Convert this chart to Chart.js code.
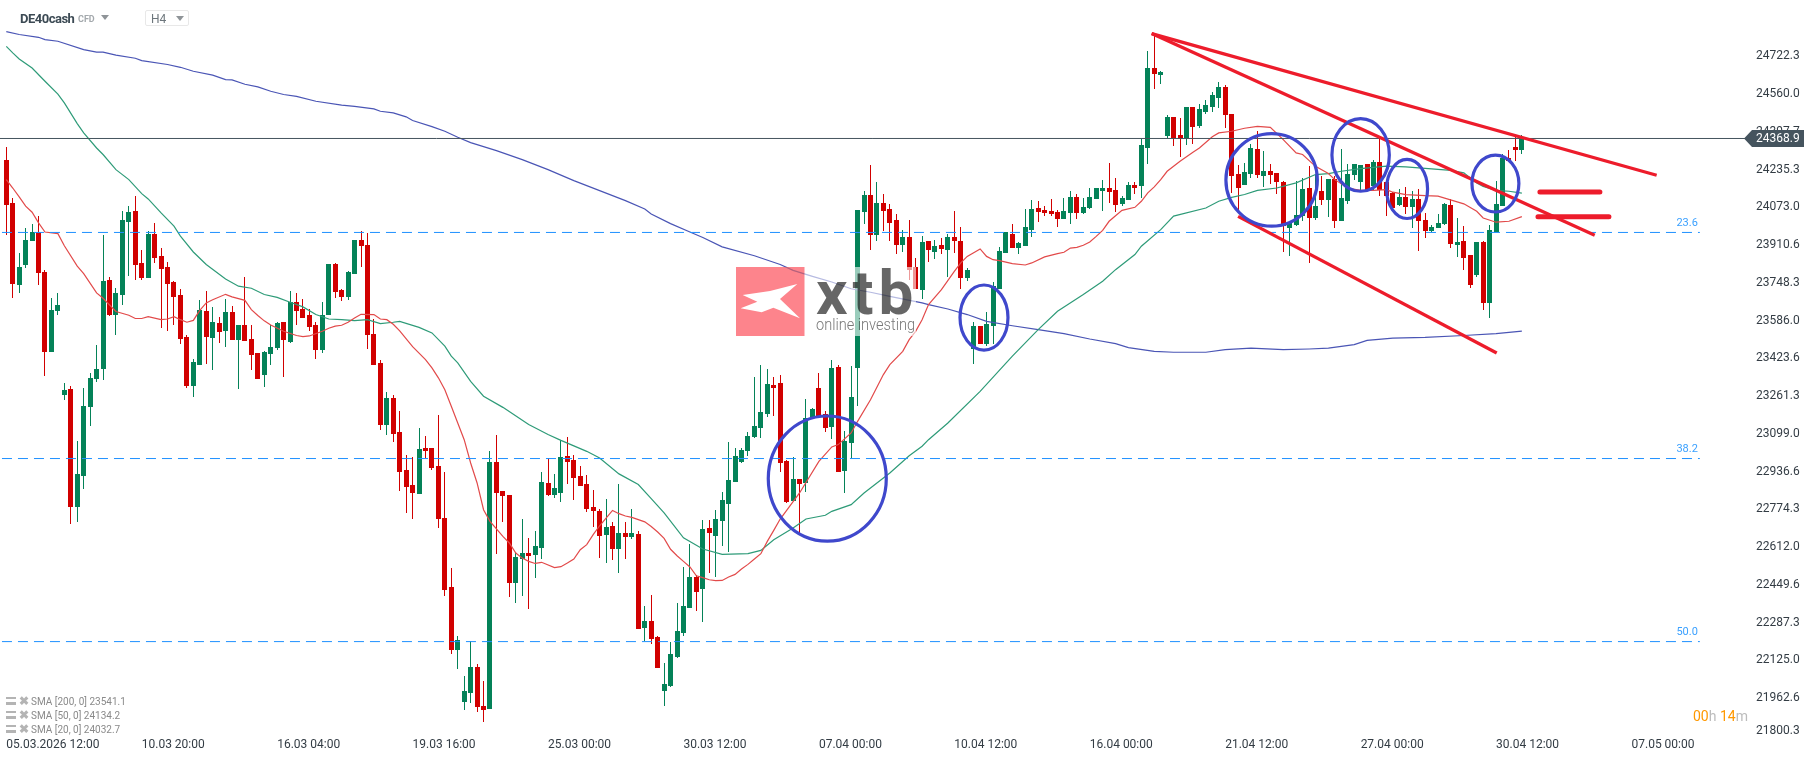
<!DOCTYPE html>
<html><head><meta charset="utf-8">
<script src="https://cdn.jsdelivr.net/npm/chart.js@4/dist/chart.umd.js"></script>
<style>
html,body{margin:0;padding:0;background:#fff;overflow:hidden;width:1816px;height:761px;font-family:Roboto,sans-serif}
#wrap{position:relative;width:1816px;height:761px}
canvas{position:absolute;left:0;top:0}
.t{position:absolute;white-space:nowrap}
.sym{left:20px;top:10px;font-size:13px;font-weight:700;letter-spacing:-0.5px;color:#3c4a54;line-height:18px}
.cfd{left:78px;top:13px;font-size:9px;font-weight:700;color:#a4a9ad;line-height:13px}
.tri{position:absolute;width:0;height:0;border-left:4px solid transparent;border-right:4px solid transparent;border-top:5px solid #8f9498}
.box{position:absolute;left:145px;top:10px;width:42px;height:14px;border:1px solid #e8e8e8;border-radius:2px}
.h4{left:151px;top:11px;font-size:12px;color:#6d767c;line-height:16px}
.leg{left:31px;font-size:10px;color:#8a8a8a;line-height:14px}
.ic{position:absolute;left:6px;width:10px;height:8px;border-top:2px solid #b4b4b4;border-bottom:3px solid #b4b4b4;box-sizing:border-box}
.cx{position:absolute;left:18.5px;font-size:12px;font-weight:700;color:#b4b4b4;line-height:12px}
.cd{left:1693px;top:707px;font-size:14px;line-height:18px;color:#bcbcbc}
.cd b{font-weight:400;color:#ff9800}
</style></head><body>
<div id="wrap">
<canvas id="c" width="1816" height="761"></canvas>
<div class="t sym">DE40cash</div><div class="t cfd">CFD</div><div class="tri" style="left:101px;top:15px"></div>
<div class="box"></div><div class="t h4">H4</div><div class="tri" style="left:176px;top:16px"></div>
<div class="ic" style="top:697px"></div><div class="t cx" style="top:695px">&#10006;</div><div class="t leg" style="top:694.5px">SMA [200, 0] 23541.1</div>
<div class="ic" style="top:711px"></div><div class="t cx" style="top:709px">&#10006;</div><div class="t leg" style="top:708.5px">SMA [50, 0] 24134.2</div>
<div class="ic" style="top:725px"></div><div class="t cx" style="top:723px">&#10006;</div><div class="t leg" style="top:722.5px">SMA [20, 0] 24032.7</div>
<div class="t cd"><b>00</b>h <b>14</b>m</div>
</div>
<script>
const opens=[24278,24093,23738,23824,23927,23967,23797,23450,23629,23268,
23294,22784,22920,23213,23337,23377,23762,23608,23698,24012,
24059,23835,23771,23960,23865,23818,23754,23698,23517,23304,
23397,23629,23513,23577,23543,23625,23504,23569,23509,23448,
23354,23444,23470,23582,23496,23668,23638,23608,23569,23461,
23608,23831,23719,23689,23788,23934,23913,23530,23405,23139,
23255,23105,22945,22881,22842,23040,23040,22963,22739,22442,
22172,21948,21986,22098,21930,21918,22979,22855,22838,22459,
22562,22588,22580,22610,22889,22838,22846,23005,22988,22919,
22885,22786,22769,22666,22704,22605,22674,22657,22670,22266,
22296,22227,21995,22016,22141,22244,22352,22485,22433,22696,
22661,22726,22799,22894,22980,23027,23087,23126,23186,23311,
23319,22984,22812,22907,22889,23169,23298,23186,23130,23388,
22941,23061,23384,24054,24128,23956,24093,24067,24020,23913,
23947,23818,23719,23930,23883,23913,23891,23947,23930,23771,
23466,23564,23487,23564,23723,23878,23960,23900,23908,23977,
24072,24063,24059,24054,24024,24050,24119,24050,24072,24110,
24145,24158,24149,24089,24106,24171,24166,24330,24674,24644,
24381,24463,24386,24373,24506,24424,24484,24506,24545,24592,
24476,24218,24171,24218,24325,24209,24231,24222,24184,23986,
23999,24035,24158,24025,24145,24106,24196,24016,24102,24214,
24184,24261,24166,24270,24184,24135,24085,24119,24076,24110,
24020,23973,23986,24003,24085,23913,23930,23870,23784,23926,
23663,23969,24080,24287,24334,24321];
const highs=[24334,24113,23877,23982,24003,24037,23804,23683,23705,23318,
23307,23070,23298,23361,23483,23956,23775,23726,24059,24080,
24123,23891,23973,24006,23900,23840,23758,23724,23522,23423,
23676,23715,23646,23603,23681,23649,23569,23775,23569,23448,
23457,23569,23582,23582,23715,23705,23681,23638,23582,23668,
23831,23835,23724,23801,23934,23973,23964,23595,23418,23281,
23268,23199,23010,23001,23126,23092,23040,23182,22937,22524,
22232,22059,22208,22111,22038,23027,23095,22855,22838,22587,
22734,22653,22683,22936,22994,22928,23074,23087,23010,22962,
22924,22859,22777,22820,22721,22885,22721,22777,22683,22360,
22408,22231,22115,22206,22373,22528,22627,22494,22730,22730,
22773,22850,23066,23040,23038,23107,23345,23397,23379,23345,
23354,22985,23001,22907,23251,23212,23362,23199,23418,23397,
23113,23392,24063,24145,24257,24183,24132,24089,24046,23977,
24020,23857,23951,23930,23934,23943,23960,24059,23990,23814,
23582,23564,23625,23754,23904,23968,24003,23926,24067,24106,
24102,24080,24110,24063,24115,24145,24132,24115,24158,24158,
24192,24265,24201,24123,24183,24183,24368,24747,24816,24661,
24472,24463,24459,24506,24506,24519,24536,24570,24613,24601,
24476,24257,24264,24347,24399,24317,24261,24222,24188,24006,
24185,24199,24252,24214,24209,24196,24209,24325,24261,24261,
24257,24261,24278,24368,24184,24141,24153,24162,24145,24153,
24050,23999,24046,24093,24110,24029,23994,23870,23926,23930,
23999,24188,24304,24321,24378,24386];
const lows=[23956,23682,23704,23811,23927,23741,23347,23450,23612,23246,
22713,22722,22864,23132,23321,23332,23605,23526,23652,23779,
23762,23762,23771,23835,23556,23543,23569,23487,23298,23259,
23397,23401,23375,23491,23474,23504,23294,23500,23375,23337,
23302,23397,23461,23345,23491,23569,23599,23543,23423,23448,
23608,23685,23672,23676,23788,23818,23466,23393,23117,23096,
23066,22855,22761,22731,22842,22997,22945,22696,22400,22154,
22090,21913,21943,21905,21862,21918,22584,22721,22399,22373,
22403,22347,22481,22562,22833,22825,22807,22885,22816,22876,
22764,22700,22567,22545,22558,22502,22562,22648,22261,22208,
22197,22094,21930,22012,22137,22231,22352,22339,22292,22502,
22485,22618,22593,22894,22974,23005,23083,23083,23173,23177,
22935,22803,22812,22673,22851,23169,23175,23109,23079,22937,
22846,22994,23220,24003,23891,23930,23973,23930,23874,23883,
23762,23723,23680,23840,23852,23874,23775,23878,23723,23758,
23401,23487,23478,23487,23723,23878,23900,23874,23908,23947,
24011,24037,24037,23990,24024,24003,24024,24046,24067,24110,
24059,24092,24054,24080,24106,24132,24115,24261,24583,24605,
24373,24338,24291,24343,24347,24416,24476,24484,24502,24416,
24135,24063,24171,24201,24201,24162,24175,24132,23883,23865,
23992,24013,23834,24020,24085,24033,23982,24016,24089,24192,
24149,24149,24149,24121,24037,24072,24080,24046,23986,23887,
23939,23969,23982,23999,23900,23861,23805,23728,23775,23633,
23599,23969,24080,24270,24274,24304];
const closes=[24082,23742,23818,23934,23969,23790,23450,23632,23655,23289,
22784,22928,23221,23340,23380,23758,23608,23705,24020,24055,
23827,23771,23960,23857,23810,23745,23689,23509,23304,23410,
23632,23517,23582,23539,23625,23504,23569,23500,23440,23337,
23453,23474,23577,23504,23668,23629,23599,23560,23461,23612,
23831,23711,23689,23797,23934,23908,23522,23393,23136,23255,
23100,22937,22872,22847,23036,23027,22954,22735,22430,22172,
22215,21995,22098,21926,21913,22979,22846,22833,22459,22571,
22588,22575,22618,22893,22838,22868,23001,22979,22911,22876,
22777,22769,22661,22700,22605,22674,22657,22674,22261,22296,
22219,22094,22025,22154,22253,22360,22485,22421,22691,22674,
22734,22816,22902,23005,23031,23091,23134,23195,23315,23298,
22975,22808,22907,22885,23169,23208,23175,23126,23384,22937,
23070,23259,24063,24128,23956,24093,24059,24007,23913,23947,
23805,23723,23926,23891,23908,23895,23947,23930,23771,23805,
23564,23487,23573,23736,23887,23968,23900,23921,23990,24067,
24054,24050,24046,24024,24059,24119,24050,24076,24119,24158,
24158,24140,24085,24115,24171,24158,24343,24674,24648,24656,
24463,24373,24373,24506,24420,24497,24515,24558,24592,24472,
24209,24158,24227,24330,24214,24231,24214,24184,23994,24006,
24042,24153,24025,24080,24106,24196,24016,24115,24218,24261,
24257,24149,24270,24149,24123,24072,24119,24076,24110,24016,
23973,23990,24007,24089,23917,23926,23857,23741,23926,23663,
23977,24089,24287,24274,24321,24368.9];

const sma20Index=[0,1,2,3,4,5,6,8,9,11,12,14,15,17,19,20,21,22,24,25,26,27,28,29,30,31,32,34,35,37,38,39,40,41,43,45,46,47,49,50,51,52,53,54,55,57,58,59,60,61,63,65,66,67,68,69,70,71,72,73,74,75,77,78,79,80,81,82,83,85,86,87,88,89,90,91,92,93,94,95,96,97,99,100,101,102,103,104,105,106,107,108,109,110,111,112,113,114,115,116,117,118,119,120,123,126,128,129,131,132,134,136,137,139,140,141,142,143,145,147,148,149,151,152,153,154,156,158,159,161,163,164,165,166,167,168,169,170,171,172,173,175,176,177,178,179,180,182,184,185,187,188,190,192,194,196,198,200,201,203,205,206,208,210,212,214,215,217,220,222,226,228,229,231,233,235];
const sma20Values=[24192,24156,24118,24078,24052,24006,23967,23960,23908,23820,23788,23705,23682,23625,23609,23595,23595,23603,23590,23593,23603,23590,23579,23587,23630,23662,23676,23699,23688,23673,23633,23608,23585,23567,23540,23522,23517,23520,23540,23553,23562,23566,23579,23597,23613,23612,23593,23590,23570,23542,23474,23418,23383,23340,23289,23218,23146,23074,22974,22888,22773,22723,22658,22630,22587,22565,22551,22542,22547,22524,22528,22544,22561,22601,22623,22666,22704,22737,22770,22756,22746,22740,22721,22701,22677,22650,22603,22575,22551,22527,22489,22481,22472,22468,22469,22484,22495,22518,22538,22561,22584,22637,22684,22733,22845,22981,23043,23053,23103,23153,23246,23354,23397,23454,23504,23540,23590,23655,23719,23798,23834,23862,23894,23862,23848,23844,23831,23825,23834,23860,23874,23880,23898,23901,23910,23924,23948,23974,24013,24037,24060,24073,24099,24135,24161,24192,24228,24271,24310,24328,24376,24393,24400,24413,24421,24417,24364,24307,24300,24249,24218,24192,24156,24146,24146,24149,24138,24128,24123,24121,24088,24056,24027,24009,24013,24033];

const sma50Index=[0,1,2,4,6,8,9,11,12,14,15,17,19,21,22,24,26,27,29,31,34,36,38,40,42,44,46,48,50,52,54,56,58,60,61,64,66,68,69,70,72,74,77,81,84,86,90,92,95,98,100,102,105,108,111,115,117,119,122,124,127,128,131,133,137,140,142,143,146,151,156,160,163,167,170,172,175,176,179,181,186,188,190,192,194,197,200,203,205,207,210,214,217,221,224,226,228,229,231,233,235];
const sma50Values=[24765,24737,24711,24672,24615,24560,24522,24433,24393,24328,24300,24235,24192,24132,24109,24049,23992,23949,23881,23827,23765,23734,23725,23698,23686,23665,23645,23612,23593,23590,23586,23590,23573,23579,23583,23557,23533,23476,23433,23404,23325,23261,23213,23139,23096,23071,23024,22995,22927,22881,22821,22759,22652,22604,22581,22584,22598,22644,22694,22733,22749,22766,22795,22845,22931,23005,23046,23074,23146,23282,23433,23547,23626,23698,23755,23805,23870,23906,23977,24035,24070,24099,24116,24128,24146,24156,24178,24214,24218,24228,24239,24250,24247,24238,24232,24221,24178,24163,24146,24142,24134];

const sma200Index=[0,2,5,6,8,12,14,15,17,20,21,25,27,29,32,34,35,37,39,41,43,45,48,52,54,57,58,60,62,63,66,68,70,72,76,80,84,88,96,99,100,103,106,108,111,116,120,122,125,128,131,134,137,142,143,146,149,152,156,160,164,168,172,174,178,181,186,189,193,198,202,205,209,211,215,220,226,231,235];
const sma200Values=[24828,24816,24804,24794,24787,24751,24740,24740,24727,24714,24704,24687,24675,24658,24641,24622,24621,24602,24591,24572,24558,24550,24529,24512,24507,24496,24486,24479,24462,24446,24420,24400,24374,24351,24317,24278,24235,24188,24102,24066,24044,24003,23967,23943,23903,23865,23827,23802,23776,23752,23723,23708,23690,23662,23655,23636,23612,23583,23564,23547,23530,23507,23487,23470,23454,23450,23450,23461,23468,23461,23464,23468,23483,23501,23511,23514,23522,23530,23541];

const fibPrices=[23965,22993,22206];
const fibLabels=["23.6","38.2","50.0"];
const fibRange=[-0.67,262.6];
const currentPrice=24368.9;
const trendUpper=[[177.6,24820],[255.9,24211]];
const trendMiddle=[[177.6,24820],[246.3,23953]];
const trendLower=[[191.0,24034],[231.1,23447]];
const levelOne=[[237.8,24139],[247.1,24139]];
const levelTwo=[[237.5,24032],[248.5,24032]];
const ellipses=[[127.3,22907,9.15,269],[151.6,23599,3.72,140],[196.2,24191,7.09,199],[210.0,24298,4.45,156],[217.2,24152,3.18,127],[230.9,24175,3.64,122]];

const priceTicks=[24722.3,24560.0,24397.7,24235.3,24073.0,23910.6,23748.3,23586.0,23423.6,23261.3,23099.0,22936.6,22774.3,22612.0,22449.6,22287.3,22125.0,21962.6,21820.3];
const priceLabels=["24722.3","24560.0","24397.7","24235.3","24073.0","23910.6","23748.3","23586.0","23423.6","23261.3","23099.0","22936.6","22774.3","22612.0","22449.6","22287.3","22125.0","21962.6","21800.3"];
const timeTicks=[0,21,42,63,84,105,126,147,168,189,210,231,252];
const timeLabels=["05.03.2026 12:00","10.03 20:00","16.03 04:00","19.03 16:00","25.03 00:00","30.03 12:00","07.04 00:00","10.04 12:00","16.04 00:00","21.04 12:00","27.04 00:00","30.04 12:00","07.05 00:00"];

const GREEN='#048258',RED='#d10000',TREND='#ed1c2b',RING='#3f48cc';
const idx=opens.map((_,i)=>i);
const colors=idx.map(i=>closes[i]>=opens[i]?GREEN:RED);
const wicks=idx.map(i=>({x:i,y:[lows[i],highs[i]]}));
const bodies=idx.map(i=>({x:i,y:[opens[i],closes[i]]}));
const pts=(xs,ys)=>xs.map((x,i)=>({x,y:ys[i]}));
const pair=a=>a.map(p=>({x:p[0],y:p[1]}));
const lineDs=(data,color,width,order,extra)=>Object.assign({type:'line',data,borderColor:color,borderWidth:width,pointRadius:0,tension:0,order,fill:false},extra||{});

const overlay={id:'overlay',
beforeDatasetsDraw(chart){
  chart.getSortedVisibleDatasetMetas().forEach(m=>{
    if(m.type!=='bar')return;
    m.data.forEach(el=>{el.x=Math.floor(el.x)+0.5;el.y=Math.round(el.y);el.base=Math.round(el.base);});
  });
},
afterDatasetsDraw(chart){
  const c=chart.ctx,X=chart.scales.x,Y=chart.scales.y;
  c.save();
  c.strokeStyle=RING;c.lineWidth=3.2;
  ellipses.forEach(e=>{
    const cx=X.getPixelForValue(e[0]),cy=Y.getPixelForValue(e[1]);
    const rx=X.getPixelForValue(e[0]+e[2])-cx,ry=cy-Y.getPixelForValue(e[1]+e[3]);
    c.beginPath();c.ellipse(cx,cy,rx,ry,0,0,Math.PI*2);c.stroke();
  });
  c.fillStyle='#3aa0ff';c.font='11px Roboto';c.textAlign='right';c.textBaseline='middle';
  fibPrices.forEach((p,i)=>c.fillText(fibLabels[i],X.getPixelForValue(fibRange[1])-2,Y.getPixelForValue(p)-9));
  // watermark: pale veil, then logo and letters blended over what is underneath
  c.fillStyle='rgba(255,255,255,0.6)';c.fillRect(736,267,180,69);
  c.globalCompositeOperation='multiply';
  c.fillStyle='#fd848c';c.fillRect(736,267,68.5,69);
  c.globalCompositeOperation='source-over';
  const lx=v=>720+v/3,ly=v=>255+v/3;
  const star=[[68,120],[150,108],[232,87],[180,132],[240,190],[160,158],[125,172],[62,160],[112,140]];
  c.fillStyle='#fff';c.beginPath();star.forEach((p,i)=>i?c.lineTo(lx(p[0]),ly(p[1])):c.moveTo(lx(p[0]),ly(p[1])));c.closePath();c.fill();
  c.globalCompositeOperation='multiply';
  c.fillStyle='#666666';c.textAlign='left';c.textBaseline='alphabetic';
  c.font='700 62px Roboto';c.letterSpacing='5px';c.fillText('xtb',816,314);c.letterSpacing='0px';
  c.fillStyle='#777777';c.font='300 17px Roboto';c.fillText('online investing',816,330,99);
  c.globalCompositeOperation='source-over';
  c.restore();
},afterDraw(chart){
  const c=chart.ctx,Y=chart.scales.y,y=Y.getPixelForValue(currentPrice);
  c.save();
  c.fillStyle='#45545e';c.beginPath();c.moveTo(1744,y);c.lineTo(1752,y-8.5);c.lineTo(1804,y-8.5);c.lineTo(1804,y+8.5);c.lineTo(1752,y+8.5);c.closePath();c.fill();
  c.fillStyle='#fff';c.font='12px Roboto';c.textAlign='left';c.textBaseline='middle';c.fillText(currentPrice.toFixed(1),1756,y+0.5);
  c.restore();
}};

new Chart(document.getElementById('c'),{
  data:{datasets:[
    {type:'bar',data:wicks,backgroundColor:colors,barThickness:1,grouped:false,order:20,inflateAmount:0,borderWidth:0},
    {type:'bar',data:bodies,backgroundColor:colors,barThickness:5,grouped:false,order:19,inflateAmount:0,borderWidth:0},
    lineDs(pts(sma200Index,sma200Values),'#4a55b5',1.2,10),
    lineDs(pts(sma50Index,sma50Values),'#2e9b78',1.2,9),
    lineDs(pts(sma20Index,sma20Values),'#e24a4a',1.2,8),
    ...fibPrices.map((p,i)=>lineDs(pair([[fibRange[0],p],[fibRange[1],p]]),'#1e90ff',1,7,{borderDash:[10,6]})),
    lineDs(pair([[-1,currentPrice],[270,currentPrice]]),'#45545e',1,6),
    lineDs(pair(trendUpper),TREND,3.3,5),
    lineDs(pair(trendMiddle),TREND,3.3,5),
    lineDs(pair(trendLower),TREND,3.3,5),
    lineDs(pair(levelOne),TREND,5,5,{borderCapStyle:'round'}),
    lineDs(pair(levelTwo),TREND,5,5,{borderCapStyle:'round'})
  ]},
  options:{
    responsive:false,animation:false,devicePixelRatio:1,
    layout:{padding:0},
    plugins:{legend:{display:false},tooltip:{enabled:false}},
    scales:{
      x:{type:'linear',offset:false,min:-0.977,max:269.6,
        grid:{display:false,drawTicks:false},border:{display:false},
        afterBuildTicks(s){s.ticks=timeTicks.map(v=>({value:v}));},
        afterFit(s){s.height=23;s.paddingLeft=0;s.paddingRight=0;},
        ticks:{autoSkip:false,maxRotation:0,align:'start',padding:0,color:'#333c44',font:{family:'Roboto',size:12},
          callback:(v,i)=>timeLabels[i]}},
      y:{type:'linear',position:'right',min:21791.6,max:24964.3,
        grid:{display:false,drawTicks:false},border:{display:false},
        afterBuildTicks(s){s.ticks=priceTicks.map(v=>({value:v}));},
        afterFit(s){s.width=71;s.paddingTop=0;s.paddingBottom=0;},
        ticks:{autoSkip:false,padding:11,crossAlign:'near',color:'#333c44',font:{family:'Roboto',size:12},
          callback:(v,i)=>priceLabels[i]}}
    }
  },
  plugins:[overlay]
});
</script>
</body></html>
